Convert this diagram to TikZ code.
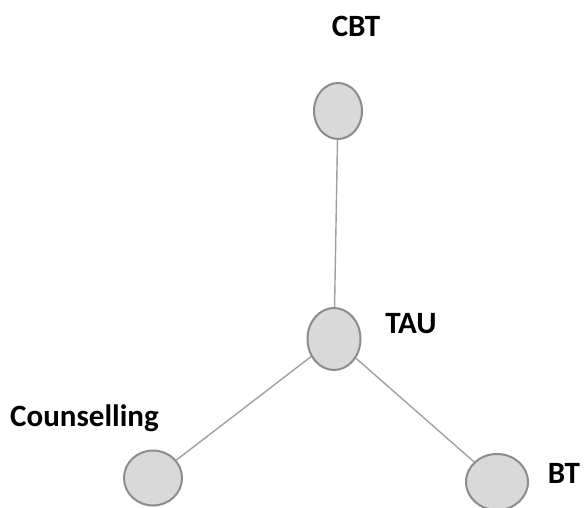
\documentclass[tikz,border=0pt]{standalone}
\usepackage{fontspec}
\setmainfont{Carlito}
\usetikzlibrary{shapes.geometric}
\definecolor{nodefill}{HTML}{D9D9D9}
\definecolor{nodeedge}{HTML}{8C8C8C}
\definecolor{edgecol}{HTML}{A0A0A0}
\tikzset{
  vert/.style={ellipse, draw=nodeedge, line width=2pt, fill=nodefill, inner sep=0pt},
  lab/.style={font=\bfseries\fontsize{31}{34}\selectfont, text=black, inner sep=0pt},
  link/.style={draw=edgecol, line width=1.4pt}
}
\begin{document}
\begin{tikzpicture}[x=1pt,y=-1pt]
\useasboundingbox (0,0) rectangle (586,508);
\node[vert, minimum width=48pt, minimum height=56pt] (cbt) at (338,111) {};
\node[vert, minimum width=53pt, minimum height=62pt] (tau) at (334,339) {};
\node[vert, minimum width=58pt, minimum height=55pt] (cou) at (153,478) {};
\node[vert, minimum width=62pt, minimum height=56pt] (bt) at (497,482) {};
\node[lab, anchor=base] (lcbt) at (356,37) {CBT};
\node[lab, anchor=base] (ltau) at (411,333) {TAU};
\node[lab, anchor=base west] (lcou) at (10,426) {Counselling};
\node[lab, anchor=base] (lbt) at (564,483) {BT};
\draw[link] (cbt) -- (tau);
\draw[link] (tau) -- (cou);
\draw[link] (tau) -- (bt);
\end{tikzpicture}
\end{document}
